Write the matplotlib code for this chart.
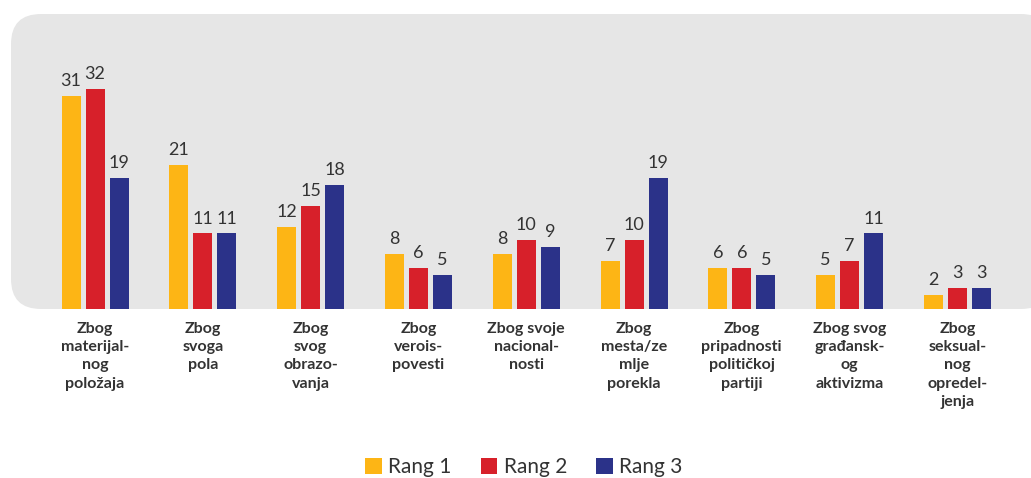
import matplotlib
matplotlib.use("Agg")
import matplotlib.pyplot as plt
from matplotlib.patches import FancyBboxPatch, Patch
import numpy as np

categories = [
    "Zbog\nmaterijal-\nnog\npoložaja",
    "Zbog\nsvoga\npola",
    "Zbog\nsvog\nobrazo-\nvanja",
    "Zbog\nverois-\npovesti",
    "Zbog svoje\nnacional-\nnosti",
    "Zbog\nmesta/ze\nmlje\nporekla",
    "Zbog\npripadnosti\npolitičkoj\npartiji",
    "Zbog svog\ngrađansk-\nog\naktivizma",
    "Zbog\nseksual-\nnog\nopredel-\njenja",
]
rang1 = [31, 21, 12, 8, 8, 7, 6, 5, 2]
rang2 = [32, 11, 15, 6, 10, 10, 6, 7, 3]
rang3 = [19, 11, 18, 5, 9, 19, 5, 11, 3]
series_names = ["Rang 1", "Rang 2", "Rang 3"]
colors = ["#FDB515", "#D7202A", "#2B3289"]

plt.rcParams["font.family"] = ["Lato", "DejaVu Sans"]

W, H = 1031, 478
fig = plt.figure(figsize=(W / 100, H / 100), dpi=100)

# ---------------------------------------------------
# GRAY ROUNDED BACKGROUND
# ---------------------------------------------------
bg = FancyBboxPatch(
    (0.11, (H - 309) / 100), 10.4, 2.95,
    boxstyle="round,pad=0,rounding_size=0.3",
    transform=fig.dpi_scale_trans,
    facecolor="#E6E6E6", edgecolor="none", zorder=-1
)
fig.patches.append(bg)

# ---------------------------------------------------
# BARS
# ---------------------------------------------------
step = 107.8
x0 = 95
ax = fig.add_axes([0, (H - 309) / H, 1, 295 / H])
ax.set_facecolor("none")
ax.set_xlim(-x0 / step, (W - x0) / step)
ax.set_ylim(0, 295 / 6.875)

x = np.arange(len(categories))
bw = 19 / step
off = 24 / step

for i, (vals, col) in enumerate(zip([rang1, rang2, rang3], colors)):
    pos = x + (i - 1) * off
    ax.bar(pos, vals, width=bw, color=col, zorder=2)
    for p, v in zip(pos, vals):
        ax.text(p, v + 1.0, str(v), ha="center", va="bottom",
                fontsize=13, color="#333333")

for s in ax.spines.values():
    s.set_visible(False)
ax.set_yticks([])
ax.set_xticks(x)
ax.set_xticklabels(categories, fontsize=11.5, color="#333333",
                   linespacing=1.4, fontweight="bold")
ax.tick_params(axis="x", length=0, pad=9)

# ---------------------------------------------------
# LEGEND
# ---------------------------------------------------
handles = [Patch(facecolor=c, edgecolor="none") for c in colors]
fig.legend(
    handles, series_names,
    loc="center", bbox_to_anchor=(0.508, 1 - 467 / H),
    ncol=3, frameon=False, fontsize=15,
    handlelength=0.8, handleheight=0.8,
    handletextpad=0.3, columnspacing=1.4,
    labelcolor="#333333"
)

fig.savefig("out.png", dpi=100)
